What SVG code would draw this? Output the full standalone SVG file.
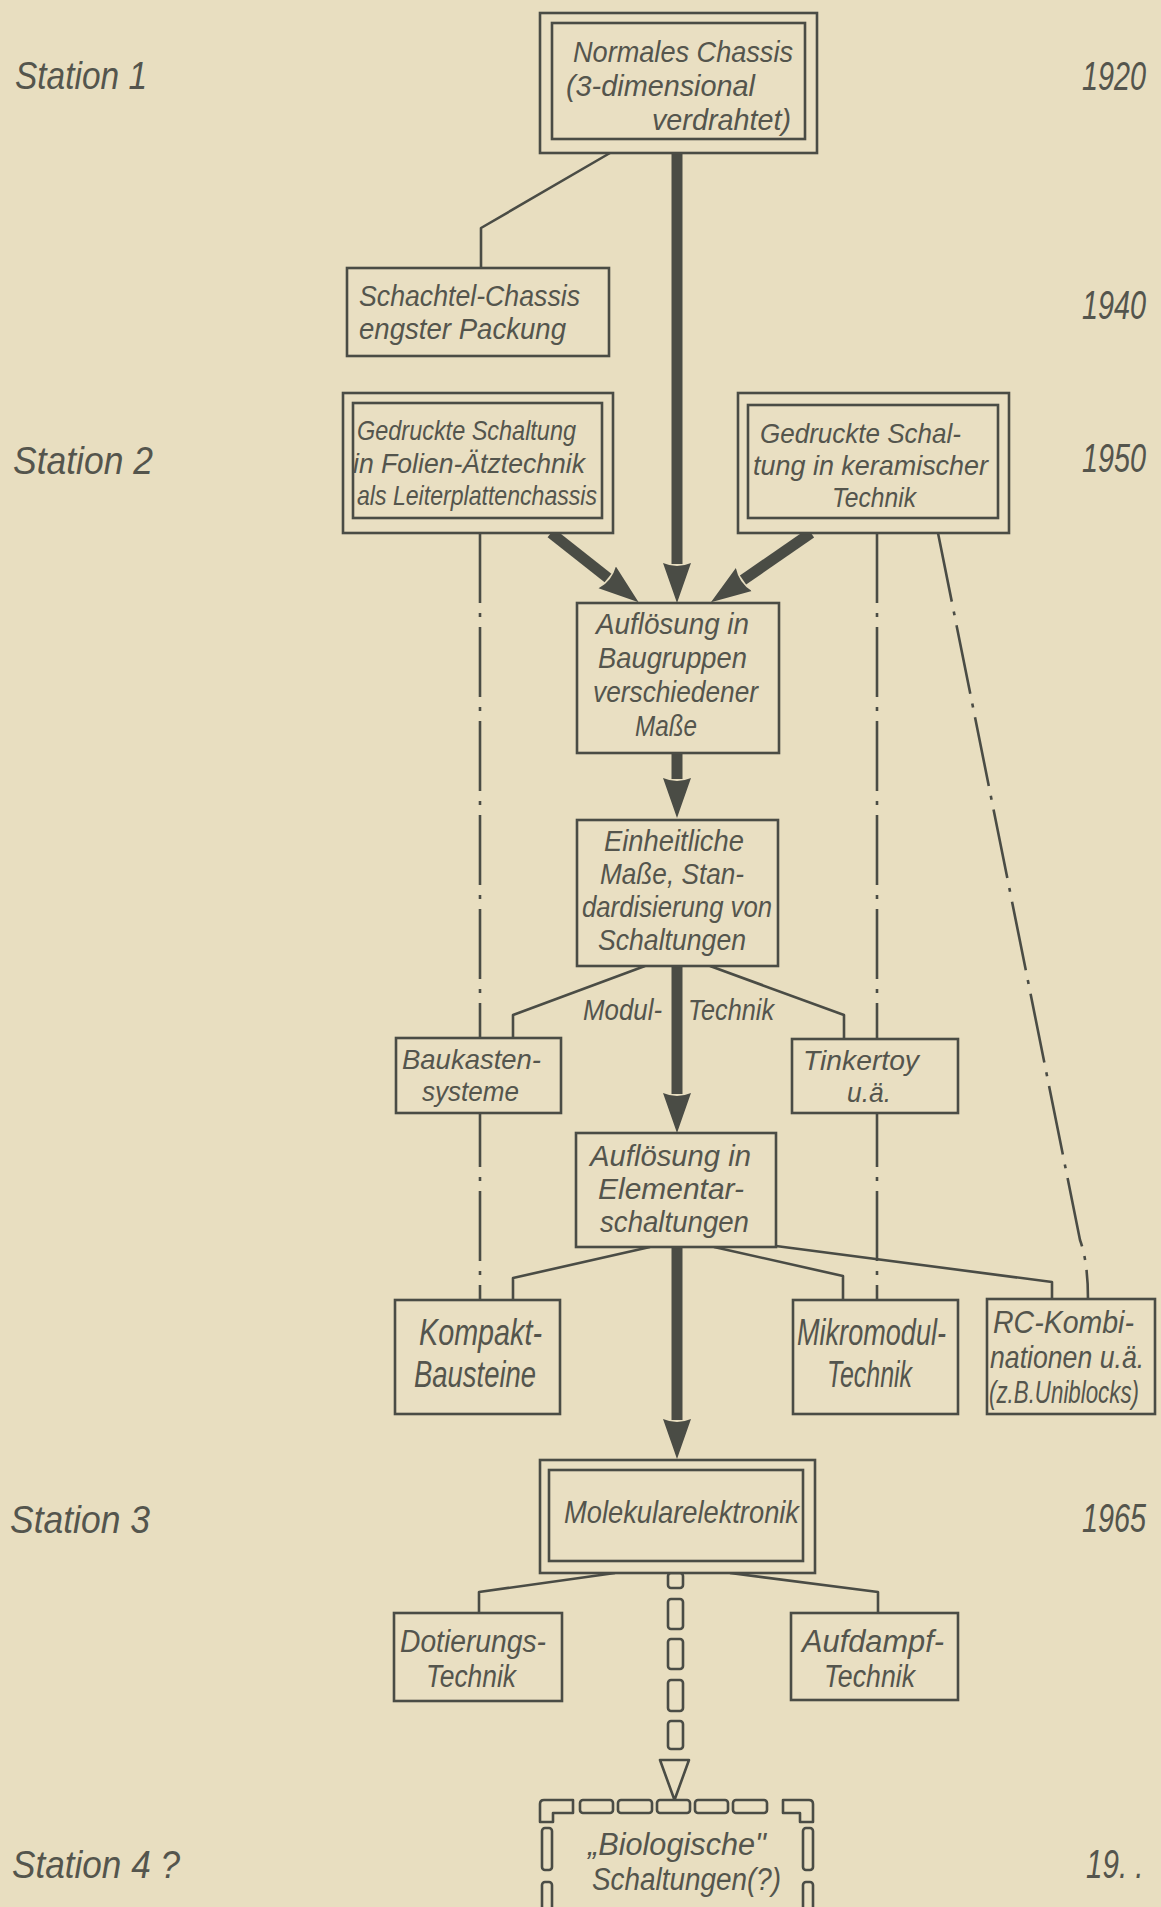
<svg xmlns="http://www.w3.org/2000/svg" width="1161" height="1907" viewBox="0 0 1161 1907">
<defs>
<style>
.bg{fill:#e8dec0}
.box{fill:#e9dfc2;stroke:#4a4c45;stroke-width:2.6}
.thin{fill:none;stroke:#4a4c45;stroke-width:2.6;stroke-linejoin:round}
.dd{fill:none;stroke:#4a4c45;stroke-width:2.6;stroke-dasharray:70 10 4 10}
.thick{fill:none;stroke:#4a4c45;stroke-width:11}
.hol{fill:#e9dfc2;stroke:#4a4c45;stroke-width:2.6;stroke-linejoin:round}
text{font-family:"Liberation Sans",Arial,sans-serif;font-style:italic;fill:#54554d}
</style>
<marker id="head" viewBox="0 0 40 30" refX="1" refY="15" markerWidth="40" markerHeight="30" markerUnits="userSpaceOnUse" orient="auto">
<path d="M0,1 L40,15 L0,29 Q6,15 0,1 Z" fill="#4a4c45"/>
</marker>
</defs>
<rect class="bg" x="0" y="0" width="1161" height="1907"/>

<g id="labels">
<text x="15" y="89" font-size="38" textLength="132" lengthAdjust="spacingAndGlyphs">Station 1</text>
<text x="13" y="474" font-size="38" textLength="140" lengthAdjust="spacingAndGlyphs">Station 2</text>
<text x="10" y="1533" font-size="38" textLength="140" lengthAdjust="spacingAndGlyphs">Station  3</text>
<text x="12" y="1878" font-size="38" textLength="168" lengthAdjust="spacingAndGlyphs">Station 4 ?</text>
<text transform="translate(1082,90) scale(0.72,1)" font-size="40">1920</text>
<text transform="translate(1082,319) scale(0.72,1)" font-size="40">1940</text>
<text transform="translate(1082,472) scale(0.72,1)" font-size="40">1950</text>
<text transform="translate(1082,1532) scale(0.72,1)" font-size="40">1965</text>
<text transform="translate(1086,1878) scale(0.74,1)" font-size="40">19. .</text>
</g>

<g id="connectors">
<polyline class="thin" points="610,153 481,228 481,268"/>
<polyline class="thin" points="645,966 513,1015 513,1038"/>
<polyline class="thin" points="710,966 844,1015 844,1039"/>
<polyline class="thin" points="650,1247 513,1278 513,1300"/>
<polyline class="thin" points="714,1247 843,1276 843,1300"/>
<polyline class="thin" points="776,1246 1052,1282 1052,1299"/>
<polyline class="thin" points="615,1573 479,1592 479,1613"/>
<polyline class="thin" points="730,1573 878,1592 878,1613"/>
<line class="dd" x1="480" y1="533" x2="480" y2="1300"/>
<line class="dd" x1="877" y1="533" x2="877" y2="1300"/>
<path class="dd" d="M938,533 L1080,1240 Q1088,1262 1088,1299"/>
<line class="thick" x1="677" y1="153" x2="677" y2="564" marker-end="url(#head)"/>
<line class="thick" x1="551" y1="533" x2="608" y2="578" marker-end="url(#head)"/>
<line class="thick" x1="811" y1="533" x2="743" y2="580" marker-end="url(#head)"/>
<line class="thick" x1="677" y1="753" x2="677" y2="779" marker-end="url(#head)"/>
<line class="thick" x1="677" y1="966" x2="677" y2="1094" marker-end="url(#head)"/>
<line class="thick" x1="677" y1="1247" x2="677" y2="1420" marker-end="url(#head)"/>
<g id="hollow-arrow">
<rect class="hol" x="668" y="1573" width="15" height="15" rx="3"/>
<rect class="hol" x="668" y="1599" width="15" height="30" rx="3"/>
<rect class="hol" x="668" y="1639" width="15" height="30" rx="3"/>
<rect class="hol" x="668" y="1680" width="15" height="31" rx="3"/>
<rect class="hol" x="668" y="1721" width="15" height="28" rx="3"/>
<path class="hol" d="M660,1760 L689,1760 L674.5,1800 Z"/>
</g>
</g>

<g id="n-normales">
<rect class="box" x="540" y="13" width="277" height="140"/>
<rect class="box" x="552" y="23" width="253" height="116"/>
<text x="573" y="62" font-size="30" textLength="220" lengthAdjust="spacingAndGlyphs">Normales Chassis</text>
<text x="566" y="96" font-size="30" textLength="189" lengthAdjust="spacingAndGlyphs">(3-dimensional</text>
<text x="652" y="130" font-size="30" textLength="139" lengthAdjust="spacingAndGlyphs">verdrahtet)</text>
</g>

<g id="n-schachtel">
<rect class="box" x="347" y="268" width="262" height="88"/>
<text x="359" y="306" font-size="29.5" textLength="221" lengthAdjust="spacingAndGlyphs">Schachtel-Chassis</text>
<text x="359" y="339" font-size="29.5" textLength="207" lengthAdjust="spacingAndGlyphs">engster Packung</text>
</g>

<g id="n-gedruckte-folie">
<rect class="box" x="343" y="393" width="270" height="140"/>
<rect class="box" x="353" y="403" width="249" height="115"/>
<text x="357" y="440" font-size="28.5" textLength="219" lengthAdjust="spacingAndGlyphs">Gedruckte Schaltung</text>
<text x="353" y="472.5" font-size="28.5" textLength="232" lengthAdjust="spacingAndGlyphs">in Folien-Ätztechnik</text>
<text x="357" y="505" font-size="28.5" textLength="240" lengthAdjust="spacingAndGlyphs">als Leiterplattenchassis</text>
</g>

<g id="n-gedruckte-keramik">
<rect class="box" x="738" y="393" width="271" height="140"/>
<rect class="box" x="748" y="405" width="250" height="113"/>
<text x="760" y="443" font-size="28.5" textLength="201" lengthAdjust="spacingAndGlyphs">Gedruckte Schal-</text>
<text x="753" y="475" font-size="28.5" textLength="235" lengthAdjust="spacingAndGlyphs">tung in keramischer</text>
<text x="832" y="507" font-size="28.5" textLength="84" lengthAdjust="spacingAndGlyphs">Technik</text>
</g>

<g id="n-baugruppen">
<rect class="box" x="577" y="603" width="202" height="150"/>
<text x="596" y="634" font-size="30" textLength="153" lengthAdjust="spacingAndGlyphs">Auflösung in</text>
<text x="598" y="668" font-size="30" textLength="149" lengthAdjust="spacingAndGlyphs">Baugruppen</text>
<text x="593" y="702" font-size="30" textLength="165" lengthAdjust="spacingAndGlyphs">verschiedener</text>
<text x="635" y="736" font-size="30" textLength="62" lengthAdjust="spacingAndGlyphs">Maße</text>
</g>

<g id="n-einheitliche">
<rect class="box" x="577" y="820" width="201" height="146"/>
<text x="604" y="851" font-size="29.5" textLength="140" lengthAdjust="spacingAndGlyphs">Einheitliche</text>
<text x="600" y="884" font-size="29.5" textLength="144" lengthAdjust="spacingAndGlyphs">Maße, Stan-</text>
<text x="582" y="917" font-size="29.5" textLength="190" lengthAdjust="spacingAndGlyphs">dardisierung von</text>
<text x="598" y="950" font-size="29.5" textLength="148" lengthAdjust="spacingAndGlyphs">Schaltungen</text>
</g>

<g id="label-modul">
<text x="583" y="1020" font-size="30" textLength="79" lengthAdjust="spacingAndGlyphs">Modul-</text>
<text x="688" y="1020" font-size="30" textLength="86" lengthAdjust="spacingAndGlyphs">Technik</text>
</g>

<g id="n-baukasten">
<rect class="box" x="396" y="1038" width="165" height="75"/>
<text x="402" y="1069" font-size="28.5" textLength="139" lengthAdjust="spacingAndGlyphs">Baukasten-</text>
<text x="422" y="1101" font-size="28.5" textLength="97" lengthAdjust="spacingAndGlyphs">systeme</text>
</g>

<g id="n-tinkertoy">
<rect class="box" x="792" y="1039" width="166" height="74"/>
<text x="803" y="1070" font-size="28.5" textLength="116" lengthAdjust="spacingAndGlyphs">Tinkertoy</text>
<text x="847" y="1102" font-size="28.5" textLength="44" lengthAdjust="spacingAndGlyphs">u.ä.</text>
</g>

<g id="n-elementar">
<rect class="box" x="576" y="1133" width="200" height="114"/>
<text x="590" y="1166" font-size="29.5" textLength="161" lengthAdjust="spacingAndGlyphs">Auflösung in</text>
<text x="598" y="1199" font-size="29.5" textLength="146" lengthAdjust="spacingAndGlyphs">Elementar-</text>
<text x="600" y="1232" font-size="29.5" textLength="149" lengthAdjust="spacingAndGlyphs">schaltungen</text>
</g>

<g id="n-kompakt">
<rect class="box" x="395" y="1300" width="165" height="114"/>
<text x="419" y="1345" font-size="37" textLength="123" lengthAdjust="spacingAndGlyphs">Kompakt-</text>
<text x="414" y="1387" font-size="37" textLength="122" lengthAdjust="spacingAndGlyphs">Bausteine</text>
</g>

<g id="n-mikromodul">
<rect class="box" x="793" y="1300" width="165" height="114"/>
<text x="797" y="1345" font-size="36" textLength="149" lengthAdjust="spacingAndGlyphs">Mikromodul-</text>
<text x="827" y="1387" font-size="36" textLength="85" lengthAdjust="spacingAndGlyphs">Technik</text>
</g>

<g id="n-rc">
<rect class="box" x="987" y="1299" width="168" height="115"/>
<text transform="translate(993,1333) scale(0.92,1)" font-size="31">RC-Kombi-</text>
<text transform="translate(990,1368) scale(0.86,1)" font-size="31">nationen u.ä.</text>
<text transform="translate(989,1403) scale(0.72,1)" font-size="31">(z.B.Uniblocks)</text>
</g>

<g id="n-molekular">
<rect class="box" x="540" y="1460" width="275" height="113"/>
<rect class="box" x="549" y="1470" width="254" height="91"/>
<text x="564" y="1523" font-size="32" textLength="235" lengthAdjust="spacingAndGlyphs">Molekularelektronik</text>
</g>

<g id="n-dotierung">
<rect class="box" x="394" y="1613" width="168" height="88"/>
<text x="400" y="1652" font-size="31" textLength="146" lengthAdjust="spacingAndGlyphs">Dotierungs-</text>
<text x="426" y="1687" font-size="31" textLength="90" lengthAdjust="spacingAndGlyphs">Technik</text>
</g>

<g id="n-aufdampf">
<rect class="box" x="791" y="1613" width="167" height="87"/>
<text x="802" y="1652" font-size="31" textLength="142" lengthAdjust="spacingAndGlyphs">Aufdampf-</text>
<text x="824" y="1687" font-size="31" textLength="91" lengthAdjust="spacingAndGlyphs">Technik</text>
</g>

<g id="n-biologisch">
<path class="hol" d="M540,1822 L540,1804 Q540,1800 544,1800 L573,1800 L573,1813 L553,1813 L553,1822 Z"/>
<rect class="hol" x="580" y="1800" width="33" height="13" rx="3"/>
<rect class="hol" x="618" y="1800" width="34" height="13" rx="3"/>
<rect class="hol" x="657" y="1800" width="33" height="13" rx="3"/>
<rect class="hol" x="695" y="1800" width="33" height="13" rx="3"/>
<rect class="hol" x="733" y="1800" width="34" height="13" rx="3"/>
<path class="hol" d="M783,1800 L809,1800 Q813,1800 813,1804 L813,1822 L800,1822 L800,1813 L783,1813 Z"/>
<rect class="hol" x="542" y="1828" width="10" height="42" rx="3"/>
<rect class="hol" x="542" y="1882" width="10" height="40" rx="3"/>
<rect class="hol" x="803" y="1828" width="10" height="42" rx="3"/>
<rect class="hol" x="803" y="1882" width="10" height="40" rx="3"/>
<text x="588" y="1855" font-size="31" textLength="178" lengthAdjust="spacingAndGlyphs">„Biologische"</text>
<text x="592" y="1890" font-size="31" textLength="189" lengthAdjust="spacingAndGlyphs">Schaltungen(?)</text>
</g>
</svg>
